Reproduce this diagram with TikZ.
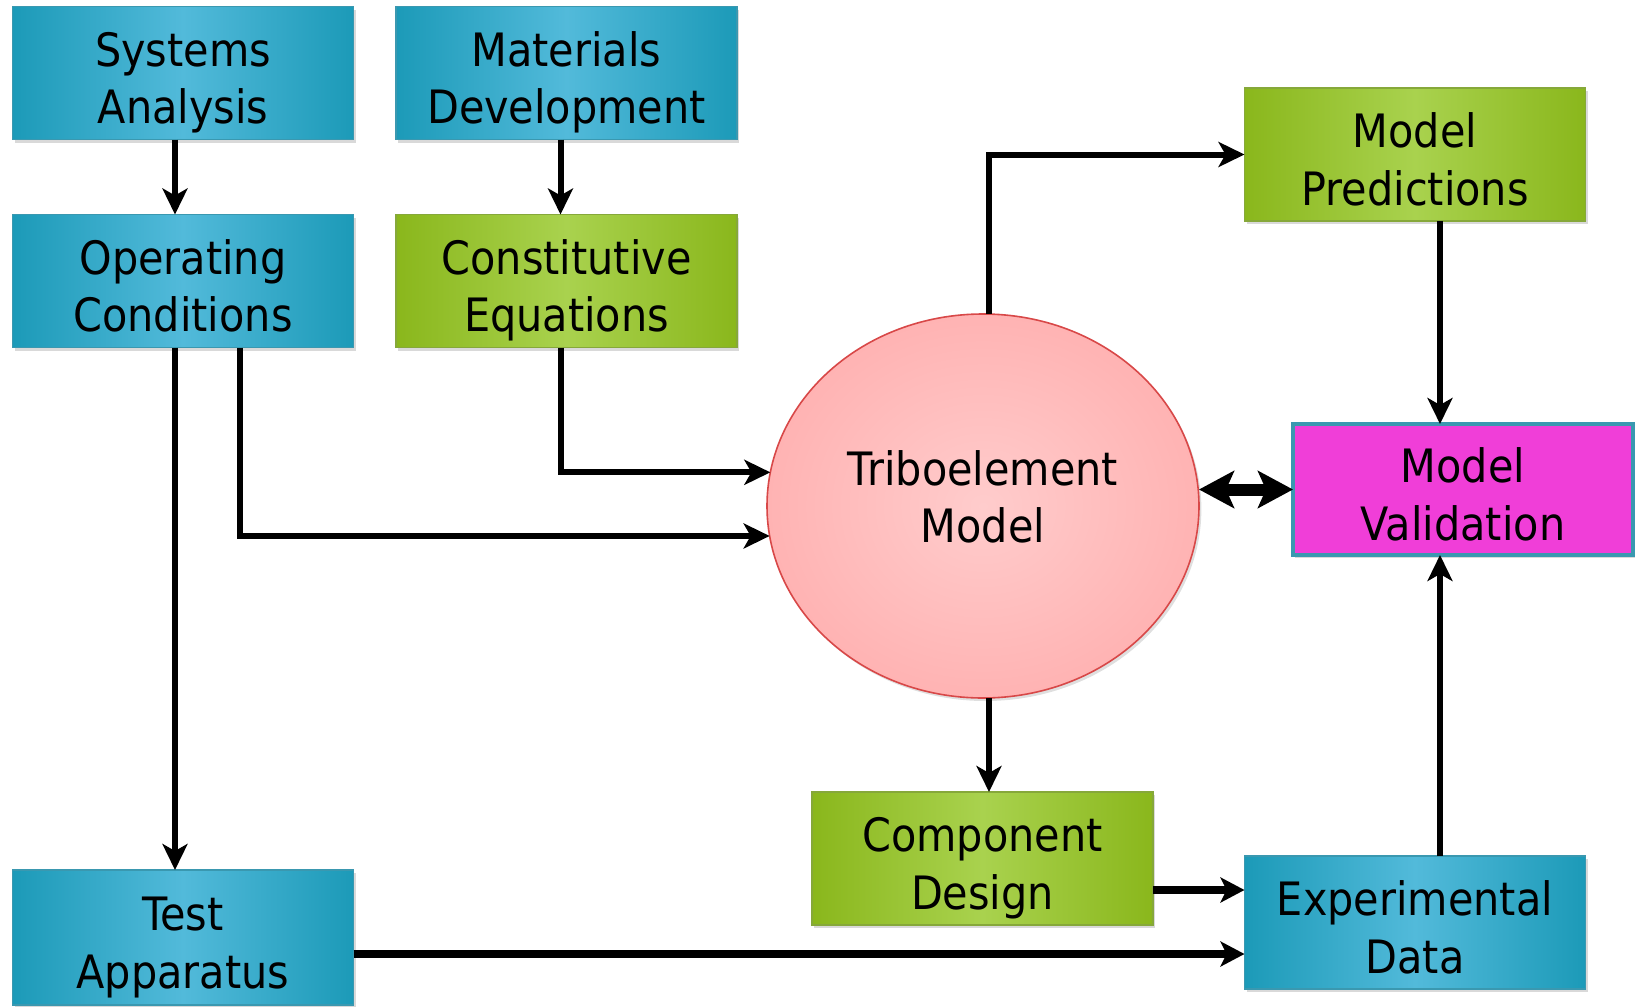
\documentclass[tikz,border=0pt]{standalone}
\usepackage{fontspec}
\setmainfont{DejaVu Sans}[FakeStretch=0.9]
\usepackage{tikz}
\usetikzlibrary{arrows.meta,positioning,shapes.geometric,shadows,calc}
\definecolor{tealdark}{HTML}{1C9AB8}
\definecolor{teallight}{HTML}{52BADA}
\definecolor{tealedge}{HTML}{3A98B0}
\definecolor{greendark}{HTML}{8AB71C}
\definecolor{greenlight}{HTML}{A9D24E}
\definecolor{greenedge}{HTML}{86A83A}
\definecolor{magentabox}{HTML}{F03ED8}
\definecolor{pinkdark}{HTML}{FFB3B3}
\definecolor{pinklight}{HTML}{FFCCCC}
\definecolor{pinkedge}{HTML}{D84848}
\newcommand{\twolines}[2]{\rule{0pt}{28pt}#1\\#2\rule[-6pt]{0pt}{0pt}}

\begin{document}
\begin{tikzpicture}[
  x=0.5pt, y=-0.5pt,
  node distance=21.25pt and 21.25pt,
  box/.style={rectangle, draw, line width=0.8pt, minimum width=170.5pt, minimum height=66.5pt, inner sep=0pt, outer sep=0pt, align=center, font=\fontsize{23}{28.75}\selectfont, drop shadow={opacity=0.3, shadow xshift=1.2pt, shadow yshift=-1.5pt}},
  bluebox/.style={box, draw=tealedge, left color=tealdark, right color=tealdark, middle color=teallight},
  greenbox/.style={box, draw=greenedge, left color=greendark, right color=greendark, middle color=greenlight},
  arr/.style={-{Stealth[length=13pt, width=12.5pt, inset=3.5pt]}, line width=3pt},
  bigarr/.style={-{Stealth[length=12pt, width=12.5pt, inset=3pt]}, line width=4pt},
  dblarr/.style={{Stealth[length=17.5pt, width=18.5pt, inset=4pt]}-{Stealth[length=17.5pt, width=18.5pt, inset=4pt]}, line width=6pt},
]
\useasboundingbox (0,0) rectangle (1640,1007);
\node[bluebox] (systems) at (183,73) {\twolines{Systems}{Analysis}};
\node[bluebox, right=of systems] (materials) {\twolines{Materials}{Development}};
\node[bluebox, below=37.5pt of systems] (operating) {\twolines{Operating}{Conditions}};
\node[greenbox, below=37.5pt of materials] (constitutive) {\twolines{Constitutive}{Equations}};
\node[bluebox, minimum height=67.5pt] (test) at (183,937.5) {\twolines{Test}{Apparatus}};
\node[ellipse, draw=pinkedge, line width=0.8pt, inner sep=0pt, outer sep=0pt, minimum width=216pt, minimum height=192pt, inner color=pinklight, outer color=pinkdark, font=\fontsize{23}{28.75}\selectfont, align=center, drop shadow={opacity=0.25, shadow xshift=1.2pt, shadow yshift=-1.5pt}] (tribo) at (983,506) {\rule{0pt}{28pt}Triboelement\\Model\rule[-20pt]{0pt}{0pt}};
\node[greenbox] (predictions) at (1415,154.5) {\twolines{Model}{Predictions}};
\node[box, draw=tealedge, line width=1.6pt, fill=magentabox, minimum width=170pt, minimum height=65.5pt] (validation) at (1463,489.5) {\twolines{Model}{Validation}};
\node[greenbox] (component) at (982.5,858.5) {\twolines{Component}{Design}};
\node[bluebox] (experimental) at (1415,922.5) {\twolines{Experimental}{Data}};
\draw[arr] ([xshift=-4pt]systems.south) -- ([xshift=-4pt]operating.north);
\draw[arr] ([xshift=-3pt]materials.south) -- ([xshift=-3pt]constitutive.north);
\draw[arr] ([xshift=-4pt]operating.south) -- ([xshift=-4pt]test.north);
\draw[arr] ([xshift=28.5pt]operating.south) |- (tribo.188.5);
\draw[arr] ([xshift=-3pt]constitutive.south) |- (tribo.171.5);
\draw[arr] ([xshift=3pt]tribo.north) |- (predictions.west);
\draw[arr] ([xshift=3pt]tribo.south) -- ([xshift=3pt]tribo.south |- component.north);
\draw[arr] ([xshift=12.5pt]predictions.south) -- ([xshift=12.5pt]predictions.south |- validation.north);
\draw[arr] ([xshift=12.5pt]experimental.north) -- ([xshift=12.5pt]experimental.north |- validation.south);
\draw[dblarr] (validation.west -| tribo.east) -- (validation.west);
\draw[bigarr] ([yshift=-15.75pt]component.east) -- ([yshift=-15.75pt]component.east -| experimental.west);
\draw[bigarr] ([yshift=-8.25pt]test.east) -- ([yshift=-8.25pt]test.east -| experimental.west);
\end{tikzpicture}
\end{document}
